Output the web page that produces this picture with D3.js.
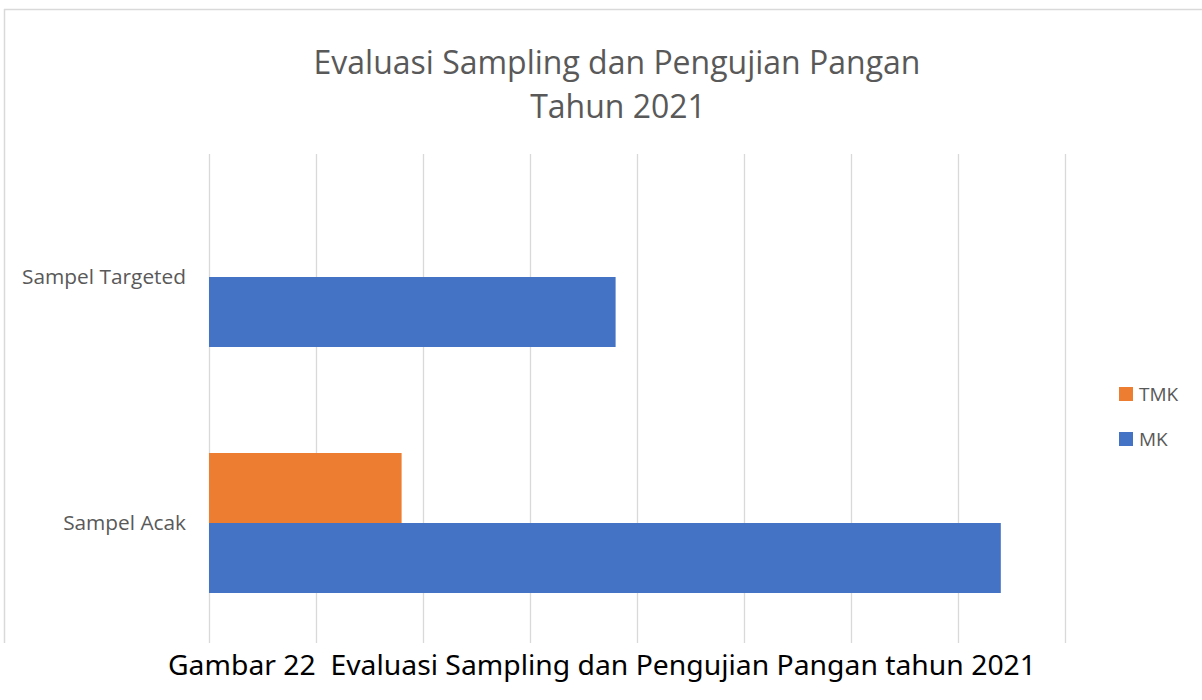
<!DOCTYPE html>
<html>
<head>
<meta charset="utf-8">
<script src="https://cdn.jsdelivr.net/npm/d3@7/dist/d3.min.js"></script>
<style>
  html, body { margin: 0; padding: 0; background: #fff; }
  svg { display: block; }
  text { white-space: pre; }
</style>
</head>
<body>
<svg id="chart" width="1202" height="700"></svg>
<script>
// ---- data ----
const categories = ["Sampel Targeted", "Sampel Acak"];
const seriesNames = ["TMK", "MK"];
const tmkValues = [0, 18];
const mkValues = [38, 74];
const xTicks = [0, 10, 20, 30, 40, 50, 60, 70, 80];
const titleLines = ["Evaluasi Sampling dan Pengujian Pangan", "Tahun 2021"];
const captionText = "Gambar 22  Evaluasi Sampling dan Pengujian Pangan tahun 2021";

const colors = { TMK: "#ED7D31", MK: "#4472C4" };
const font = "'Open Sans', 'Noto Sans', sans-serif";

const svg = d3.select("#chart");

// frame (cropped chart area)
svg.append("line").attr("x1", 4.5).attr("x2", 4.5).attr("y1", 9).attr("y2", 643)
  .attr("stroke", "#d9d9d9").attr("stroke-width", 1.5);
svg.append("line").attr("x1", 4).attr("x2", 1202).attr("y1", 9.5).attr("y2", 9.5)
  .attr("stroke", "#d9d9d9").attr("stroke-width", 1.5);

const x = d3.scaleLinear().domain([0, 80]).range([209, 1065]);
const y = d3.scaleBand().domain(categories).range([154, 646])
  .paddingInner(106 / 246).paddingOuter(53 / 246);
const ySub = d3.scaleBand().domain(seriesNames).range([0, y.bandwidth()]);

// gridlines
svg.append("g").selectAll("line").data(xTicks).join("line")
  .attr("x1", d => Math.round(x(d)) + 0.5).attr("x2", d => Math.round(x(d)) + 0.5)
  .attr("y1", 154).attr("y2", 643)
  .attr("stroke", "#d9d9d9").attr("stroke-width", 1.3);

// bars
const rows = categories.map((c, i) => ({ cat: c, TMK: tmkValues[i], MK: mkValues[i] }));
const g = svg.append("g");
rows.forEach(r => {
  seriesNames.forEach(s => {
    g.append("rect")
      .attr("x", x(0))
      .attr("y", y(r.cat) + ySub(s))
      .attr("width", x(r[s]) - x(0))
      .attr("height", ySub.bandwidth())
      .attr("fill", colors[s]);
  });
});

function fit(sel, w) {
  const node = sel.node();
  const len = node.getComputedTextLength();
  const fs = parseFloat(sel.attr("font-size"));
  if (len > 0) sel.attr("font-size", fs * w / len);
}

// category labels
categories.forEach(c => {
  const t = svg.append("text")
    .attr("x", 186).attr("y", y(c) + y.bandwidth() / 2 + 7)
    .attr("text-anchor", "end")
    .attr("font-family", font).attr("font-size", 19)
    .attr("fill", "#595959").text(c);
  if (c === "Sampel Targeted") fit(t, 164);
  else fit(t, 123);
});

// title
const t1 = svg.append("text").attr("x", 617).attr("y", 74).attr("text-anchor", "middle")
  .attr("font-family", font).attr("font-size", 32).attr("fill", "#595959").text(titleLines[0]);
fit(t1, 607);
const t2 = svg.append("text").attr("x", 618).attr("y", 118).attr("text-anchor", "middle")
  .attr("font-family", font).attr("font-size", t1.attr("font-size")).attr("fill", "#595959").text(titleLines[1]);

// legend
const legendY = [394, 439];
seriesNames.forEach((s, i) => {
  svg.append("rect").attr("x", 1119).attr("y", legendY[i] - 7).attr("width", 14).attr("height", 14)
    .attr("fill", colors[s]);
  svg.append("text").attr("x", 1139).attr("y", legendY[i] + 7)
    .attr("font-family", font).attr("font-size", 19).attr("fill", "#595959").text(s);
});

// caption (condensed, like Calibri)
svg.append("text").attr("x", 168).attr("y", 675)
  .attr("font-family", "'Noto Sans', 'Open Sans', sans-serif").attr("font-size", 28)
  .attr("textLength", 868).attr("lengthAdjust", "spacingAndGlyphs")
  .attr("fill", "#000").text(captionText);
</script>
</body>
</html>
